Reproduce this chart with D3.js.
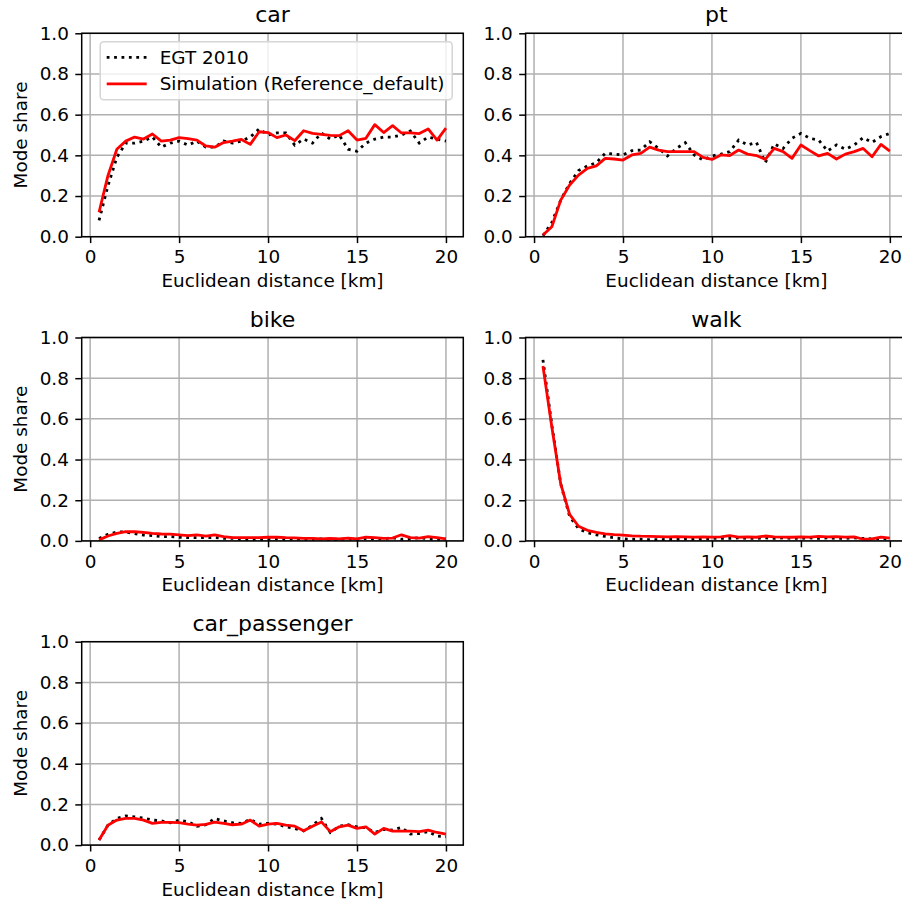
<!DOCTYPE html>
<html lang="en">
<head>
    <meta charset="UTF-8">
    <title>Mode share by distance</title>
    <script src="https://d3js.org/d3.v7.min.js" charset="utf-8"></script>
    <style>
        body { margin: 0; background: #fff; }
        text { font-family: "DejaVu Sans", sans-serif; fill: #000; }
    </style>
</head>
<body>
<script>
    // distance bins [km]
    var distance = [0.5, 1, 1.5, 2, 2.5, 3, 3.5, 4, 4.5, 5, 5.5, 6, 6.5, 7, 7.5, 8, 8.5, 9, 9.5, 10,
        10.5, 11, 11.5, 12, 12.5, 13, 13.5, 14, 14.5, 15, 15.5, 16, 16.5, 17, 17.5, 18, 18.5, 19, 19.5, 20];

    var xTicks = [0, 5, 10, 15, 20];
    var yTicks = [0, 0.2, 0.4, 0.6, 0.8, 1.0];
    var legendLabels = ["EGT 2010", "Simulation (Reference_default)"];

    var carEgt = [0.08, 0.25, 0.39, 0.46, 0.46, 0.47, 0.49, 0.44, 0.46, 0.47, 0.45, 0.47, 0.44, 0.44, 0.47, 0.46, 0.47, 0.49, 0.53, 0.50,
        0.51, 0.51, 0.45, 0.48, 0.46, 0.51, 0.48, 0.50, 0.43, 0.42, 0.46, 0.48, 0.49, 0.49, 0.50, 0.52, 0.46, 0.49, 0.48, 0.47];
    var carSim = [0.12, 0.30, 0.43, 0.47, 0.49, 0.48, 0.505, 0.47, 0.475, 0.487, 0.482, 0.475, 0.446, 0.44, 0.463, 0.47, 0.478, 0.454, 0.516, 0.512,
        0.487, 0.50, 0.472, 0.521, 0.508, 0.503, 0.498, 0.497, 0.521, 0.475, 0.484, 0.551, 0.512, 0.546, 0.51, 0.51, 0.507, 0.53, 0.475, 0.534];

    var ptEgt = [0.005, 0.07, 0.18, 0.262, 0.325, 0.348, 0.364, 0.41, 0.406, 0.402, 0.423, 0.426, 0.467, 0.434, 0.397, 0.434, 0.462, 0.402, 0.377, 0.397,
        0.406, 0.418, 0.475, 0.451, 0.464, 0.364, 0.456, 0.434, 0.484, 0.508, 0.484, 0.475, 0.421, 0.451, 0.43, 0.451, 0.487, 0.464, 0.492, 0.508];
    var ptSim = [0.008, 0.049, 0.18, 0.254, 0.303, 0.336, 0.348, 0.385, 0.382, 0.377, 0.402, 0.41, 0.44, 0.426, 0.418, 0.418, 0.418, 0.418, 0.39, 0.38,
        0.402, 0.399, 0.426, 0.406, 0.399, 0.38, 0.434, 0.418, 0.385, 0.451, 0.423, 0.397, 0.41, 0.382, 0.406, 0.418, 0.434, 0.393, 0.454, 0.421];

    var bikeEgt = [0.012, 0.032, 0.044, 0.044, 0.036, 0.029, 0.026, 0.021, 0.021, 0.018, 0.016, 0.016, 0.016, 0.016, 0.013, 0.013, 0.008, 0.008, 0.008, 0.008,
        0.010, 0.008, 0.010, 0.008, 0.008, 0.010, 0.008, 0.008, 0.010, 0.008, 0.012, 0.010, 0.010, 0.016, 0.008, 0.010, 0.016, 0.010, 0.008, 0.008];
    var bikeSim = [0.005, 0.024, 0.037, 0.045, 0.045, 0.042, 0.037, 0.034, 0.033, 0.030, 0.026, 0.030, 0.024, 0.030, 0.021, 0.016, 0.016, 0.016, 0.016, 0.018,
        0.018, 0.016, 0.015, 0.012, 0.012, 0.010, 0.012, 0.010, 0.014, 0.010, 0.018, 0.016, 0.012, 0.014, 0.030, 0.016, 0.014, 0.021, 0.016, 0.010];

    var walkEgt = [0.89, 0.57, 0.28, 0.12, 0.06, 0.04, 0.03, 0.022, 0.015, 0.010, 0.008, 0.008, 0.006, 0.006, 0.008, 0.008, 0.010, 0.008, 0.010, 0.012,
        0.012, 0.012, 0.015, 0.012, 0.012, 0.015, 0.012, 0.015, 0.012, 0.012, 0.015, 0.012, 0.015, 0.012, 0.012, 0.015, 0.012, 0.010, 0.012, 0.010];
    var walkSim = [0.86, 0.56, 0.28, 0.13, 0.072, 0.052, 0.042, 0.035, 0.031, 0.028, 0.025, 0.023, 0.022, 0.021, 0.020, 0.021, 0.020, 0.019, 0.020, 0.019,
        0.020, 0.026, 0.019, 0.020, 0.018, 0.024, 0.020, 0.019, 0.018, 0.020, 0.019, 0.022, 0.020, 0.021, 0.019, 0.020, 0.008, 0.010, 0.019, 0.014];

    var cpEgt = [0.025, 0.098, 0.131, 0.144, 0.139, 0.133, 0.123, 0.119, 0.11, 0.123, 0.115, 0.093, 0.10, 0.131, 0.119, 0.11, 0.107, 0.126, 0.103, 0.107,
        0.103, 0.09, 0.082, 0.07, 0.098, 0.131, 0.062, 0.093, 0.10, 0.09, 0.085, 0.062, 0.077, 0.074, 0.087, 0.054, 0.057, 0.066, 0.044, 0.041];
    var cpSim = [0.025, 0.098, 0.123, 0.131, 0.131, 0.123, 0.107, 0.112, 0.112, 0.11, 0.103, 0.098, 0.102, 0.113, 0.107, 0.10, 0.103, 0.123, 0.093, 0.103,
        0.107, 0.098, 0.093, 0.07, 0.093, 0.114, 0.066, 0.09, 0.098, 0.082, 0.09, 0.054, 0.082, 0.069, 0.069, 0.069, 0.066, 0.074, 0.062, 0.054];

    var panels = [
        {title: "car", egt: carEgt, sim: carSim, col: 0, row: 0, legend: true},
        {title: "pt", egt: ptEgt, sim: ptSim, col: 1, row: 0},
        {title: "bike", egt: bikeEgt, sim: bikeSim, col: 0, row: 1},
        {title: "walk", egt: walkEgt, sim: walkSim, col: 1, row: 1},
        {title: "car_passenger", egt: cpEgt, sim: cpSim, col: 0, row: 2}
    ];

    // layout of the subplot grid (pixels)
    var colLeft = [81.7, 525.6],
        rowTop = [33.3, 337.5, 641.7],
        axW = 381.6,
        axH = 203.4,
        fs = 18.4,     // 10pt text
        tick = 6.4,
        lw = 2.8;

    var svg = d3.select("body").append("svg")
        .attr("width", 902)
        .attr("height", 899);

    var line = function(x, y) {
        return d3.line()
            .x(function(d, i) { return x(distance[i]); })
            .y(function(d) { return y(d); });
    };

    panels.forEach(function(p) {
        var g = svg.append("g")
            .attr("transform", "translate(" + colLeft[p.col] + "," + rowTop[p.row] + ")");

        // matplotlib default margins on x, fixed ylim on y
        var x = d3.scaleLinear().domain([-0.475, 20.975]).range([0, axW]);
        var y = d3.scaleLinear().domain([0, 1]).range([axH, 0]);

        // grid
        g.append("g").selectAll("line").data(xTicks).enter().append("line")
            .attr("x1", function(d) { return x(d); }).attr("x2", function(d) { return x(d); })
            .attr("y1", 0).attr("y2", axH)
            .attr("stroke", "#b0b0b0").attr("stroke-width", 1.5);
        g.append("g").selectAll("line").data(yTicks).enter().append("line")
            .attr("y1", function(d) { return y(d); }).attr("y2", function(d) { return y(d); })
            .attr("x1", 0).attr("x2", axW)
            .attr("stroke", "#b0b0b0").attr("stroke-width", 1.5);

        // data lines
        g.append("path").datum(p.egt)
            .attr("d", line(x, y))
            .attr("fill", "none")
            .attr("stroke", "#000")
            .attr("stroke-width", lw)
            .attr("stroke-dasharray", "2.8,4.6");
        g.append("path").datum(p.sim)
            .attr("d", line(x, y))
            .attr("fill", "none")
            .attr("stroke", "#ff0000")
            .attr("stroke-width", lw)
            .attr("stroke-linejoin", "round");

        // axes
        var xAxis = g.append("g")
            .attr("transform", "translate(0," + axH + ")")
            .call(d3.axisBottom(x).tickValues(xTicks).tickSize(tick).tickPadding(6.4).tickFormat(d3.format("d")));
        var yAxis = g.append("g")
            .call(d3.axisLeft(y).tickValues(yTicks).tickSize(tick).tickPadding(6.4).tickFormat(d3.format(".1f")));
        [xAxis, yAxis].forEach(function(a) {
            a.select(".domain").remove();
            a.selectAll("line").attr("stroke", "#000").attr("stroke-width", 1.5);
            a.selectAll("text").style("font-size", fs + "px").attr("fill", "#000");
        });
        xAxis.selectAll("text").attr("dy", "0.76em");

        // frame
        g.append("rect")
            .attr("width", axW).attr("height", axH)
            .attr("fill", "none").attr("stroke", "#000").attr("stroke-width", 1.5);

        // titles and labels
        g.append("text")
            .attr("x", axW / 2).attr("y", -11)
            .style("text-anchor", "middle")
            .style("font-size", "22px")
            .text(p.title);
        g.append("text")
            .attr("x", axW / 2).attr("y", axH + 50.5)
            .style("text-anchor", "middle")
            .style("font-size", fs + "px")
            .text("Euclidean distance [km]");
        if (p.col === 0) {
            g.append("text")
                .attr("transform", "translate(" + (27 - colLeft[0]) + "," + (axH / 2) + ") rotate(-90)")
                .style("text-anchor", "middle")
                .style("font-size", fs + "px")
                .text("Mode share");
        }

        if (p.legend) {
            var lg = g.append("g").attr("transform", "translate(18.5,8.5)");
            lg.append("rect")
                .attr("width", 352).attr("height", 58)
                .attr("rx", 3.5)
                .attr("fill", "#fff").attr("fill-opacity", 0.8)
                .attr("stroke", "#d6d6d6").attr("stroke-width", 1.5);
            var styles = [{stroke: "#000", dash: "2.8,4.6"}, {stroke: "#ff0000", dash: null}];
            legendLabels.forEach(function(label, i) {
                var cy = 15.5 + i * 26.5;
                lg.append("line")
                    .attr("x1", 6.5).attr("x2", 46.5)
                    .attr("y1", cy).attr("y2", cy)
                    .attr("stroke", styles[i].stroke)
                    .attr("stroke-width", lw)
                    .attr("stroke-dasharray", styles[i].dash);
                lg.append("text")
                    .attr("x", 59.5).attr("y", cy + 6.5)
                    .style("font-size", fs + "px")
                    .text(label);
            });
        }
    });
</script>
</body>
</html>
